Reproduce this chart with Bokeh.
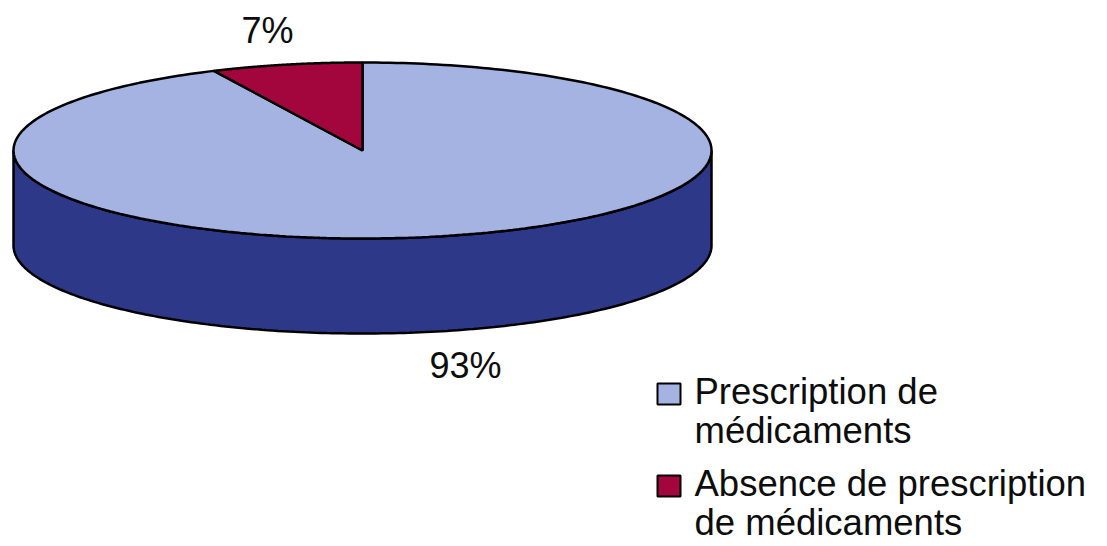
import numpy as np
from bokeh.plotting import figure
from bokeh.models import Range1d
from bokeh.core.properties import value
from bokeh.embed import file_html
from bokeh.resources import INLINE

# ---- data ----
labels = ["Prescription de médicaments", "Absence de prescription de médicaments"]
legend_lines = [["Prescription de", "médicaments"], ["Absence de prescription", "de médicaments"]]
values = [93, 7]
pct_labels = ["93%", "7%"]
top_colors = ["#A5B3E2", "#A3063C"]
side_colors = ["#2D3889", "#6E0428"]

# ---- geometry (style) ----
W, H = 1107, 546
cx, cy = 362.0, 150.0
a, b = 349.0, 88.0
depth = 95.0

p = figure(width=W, height=H, output_backend="svg", toolbar_location=None,
           x_range=Range1d(0, W), y_range=Range1d(H, 0),
           min_border=0, outline_line_color=None)
p.axis.visible = False
p.grid.visible = False
p.background_fill_color = "white"

def pt(phi, dy=0.0):
    # phi: degrees clockwise from top
    r = np.radians(phi)
    return cx + a * np.sin(r), cy - b * np.cos(r) + dy

total = float(sum(values))
starts, ends = [], []
acc = 0.0
for v in values:
    starts.append(acc / total * 360.0)
    acc += v
    ends.append(acc / total * 360.0)

# side walls (visible front part: phi in [90, 270])
for i in range(len(values)):
    s, e = max(starts[i], 90.0), min(ends[i], 270.0)
    if e <= s:
        continue
    ph = np.linspace(s, e, 200)
    xs_t, ys_t = pt(ph)
    xs_b, ys_b = pt(ph[::-1], depth)
    xs = np.concatenate([xs_t, xs_b])
    ys = np.concatenate([ys_t, ys_b])
    p.patch(list(xs), list(ys), fill_color=side_colors[i], line_color="black", line_width=2.5)

# top slices
for i in range(len(values)):
    ph = np.linspace(starts[i], ends[i], 300)
    xs, ys = pt(ph)
    xs = np.concatenate([[cx], xs, [cx]])
    ys = np.concatenate([[cy], ys, [cy]])
    p.patch(list(xs), list(ys), fill_color=top_colors[i], line_color="black", line_width=2.5)

# percentage labels
lx = [465, 267]
ly = [365, 30]
p.text(x=lx, y=ly, text=pct_labels, text_align="center", text_baseline="alphabetic",
       text_font=value("Liberation Sans"), text_font_size="36px", text_color="#0d0d0d")

# legend (manual)
box_x0, box_x1 = 657, 680
box_tops = [383, 475]
for i in range(len(labels)):
    p.quad(left=[box_x0], right=[box_x1], top=[box_tops[i]], bottom=[box_tops[i] + 21],
           fill_color=top_colors[i], line_color="black", line_width=2)

tx, ty, tt = [], [], []
baselines = [[391, 430], [483, 522]]
for i in range(len(labels)):
    for j, line in enumerate(legend_lines[i]):
        tx.append(694)
        ty.append(baselines[i][j])
        tt.append(line)
p.text(x=tx, y=ty, text=tt, text_align="left", text_baseline="alphabetic",
       text_font=value("Liberation Sans"), text_font_size="36.5px", text_color="#0d0d0d")

open("out.html", "w").write(file_html(p, INLINE))
